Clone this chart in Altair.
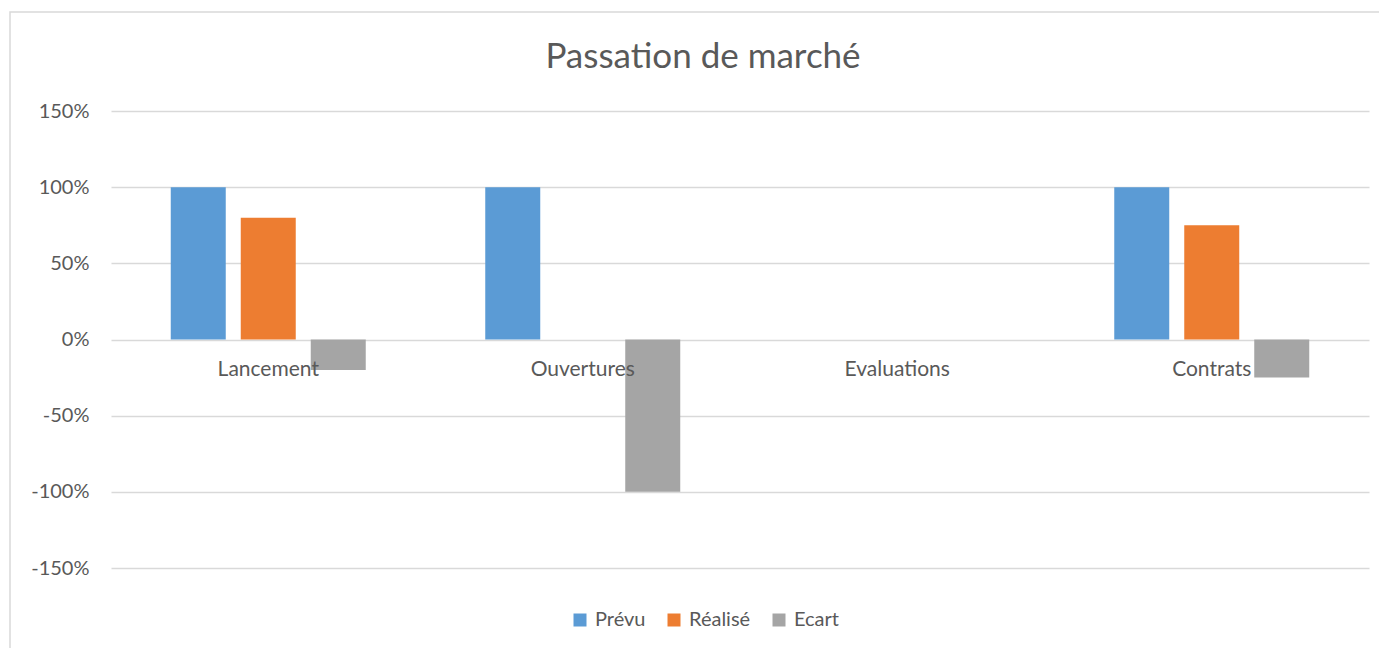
import altair as alt
import pandas as pd

categories = ["Lancement", "Ouvertures", "Evaluations", "Contrats"]
series = ["Prévu", "Réalisé", "Ecart"]
prevu = [1.00, 1.00, 0.0, 1.00]
realise = [0.80, 0.0, 0.0, 0.75]
ecart = [-0.20, -1.00, 0.0, -0.25]
colors = ["#5B9BD5", "#ED7D31", "#A5A5A5"]
y_ticks = [-1.5, -1.0, -0.5, 0.0, 0.5, 1.0, 1.5]

rows = []
for i, c in enumerate(categories):
    for s, vals in zip(series, [prevu, realise, ecart]):
        rows.append({"cat": c, "serie": s, "val": vals[i]})
df = pd.DataFrame(rows)
cat_df = pd.DataFrame({"cat": categories, "zero": [0.0] * len(categories)})

FONT = "Lato"
TXT = "#595959"
GRID = "#D9D9D9"

x_enc = alt.X("cat:N", sort=categories, axis=None,
              scale=alt.Scale(paddingInner=0, paddingOuter=0))
y_scale = alt.Scale(domain=[-1.5, 1.5], nice=False)

bars = alt.Chart(df).mark_bar().encode(
    x=x_enc,
    xOffset=alt.XOffset("serie:N", sort=series,
                        scale=alt.Scale(paddingInner=0.2143, paddingOuter=0.8536)),
    y=alt.Y("val:Q", scale=y_scale,
            axis=alt.Axis(values=y_ticks, title=None, domain=False, ticks=False,
                          labelExpr="toString(round(datum.value*100)) + '%'",
                          labelFont=FONT, labelFontSize=20, labelColor=TXT,
                          labelPadding=22, gridColor=GRID, gridWidth=1.3)),
    color=alt.Color("serie:N", sort=series,
                    scale=alt.Scale(domain=series, range=colors),
                    legend=alt.Legend(title=None, orient="none", direction="horizontal",
                                      legendX=459, legendY=499,
                                      symbolType="square", symbolSize=169,
                                      symbolStrokeWidth=0,
                                      labelFont=FONT, labelFontSize=20,
                                      labelColor=TXT, labelOffset=5,
                                      columnPadding=18)),
)

labels = alt.Chart(cat_df).mark_text(
    font=FONT, fontSize=21, color=TXT, dy=30, baseline="middle"
).encode(
    x=alt.X("cat:N", sort=categories, axis=None,
            scale=alt.Scale(paddingInner=0, paddingOuter=0)),
    y=alt.Y("zero:Q", scale=y_scale),
    text="cat:N",
)

border = alt.Chart(pd.DataFrame({"a": [0]})).mark_rect(
    fill=None, stroke=GRID, strokeWidth=1.5
).encode(
    x=alt.value(-101), x2=alt.value(1300),
    y=alt.value(-99), y2=alt.value(560),
)

chart = alt.layer(border, bars, labels).properties(
    width=1258, height=457,
    background="white",
    autosize=alt.AutoSizeParams(type="none"),
    padding={"left": 103, "top": 103, "right": 10, "bottom": 80},
    title=alt.TitleParams("Passation de marché", font=FONT, fontSize=35,
                          fontWeight="normal", color=TXT, anchor="middle",
                          frame="group", baseline="alphabetic", offset=43,
                          dx=-37, dy=135),
).configure_view(stroke=None)

chart.save("out.html", embed_options={"renderer": "svg", "actions": False})
